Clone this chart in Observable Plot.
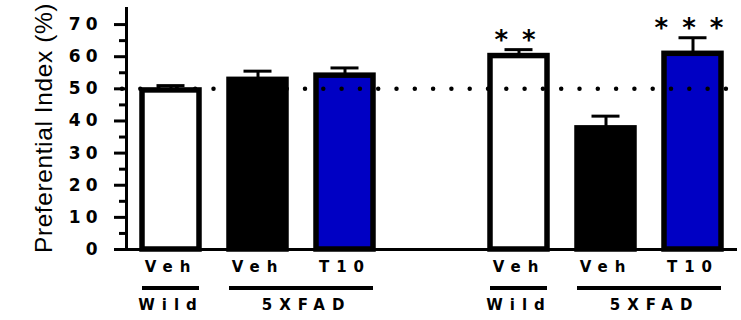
<!DOCTYPE html>
<html>
<head>
<meta charset="utf-8">
<script src="https://cdn.jsdelivr.net/npm/d3@7"></script>
<script src="https://cdn.jsdelivr.net/npm/@observablehq/plot@0.6"></script>
<style>
  html, body { margin: 0; padding: 0; background: #fff; }
  g[aria-label="y-axis tick label"] text { letter-spacing: 5px; }
  g[aria-description="treat"] text { letter-spacing: 7px; }
  g[aria-description="group"] text { letter-spacing: 7px; }
  g[aria-description="stars"] text { letter-spacing: 14px; }
  g[aria-description="ylabel"] text { letter-spacing: 0.6px; }
</style>
</head>
<body>
<div id="chart"></div>
<script>
// ---- data ----
const sessions   = ["A", "A", "A", "B", "B", "B"];
const genotypes  = ["Wild", "5XFAD", "5XFAD", "Wild", "5XFAD", "5XFAD"];
const treatments = ["Veh", "Veh", "T10", "Veh", "Veh", "T10"];
const means      = [49.5, 52.8, 54.1, 60.2, 37.7, 60.9];
const sems       = [1.5, 2.7, 2.4, 2.0, 3.8, 5.0];
const stars      = ["", "", "", "**", "", "***"];
const yTicks      = [0, 10, 20, 30, 40, 50, 60, 70];
const yMinorTicks = [5, 15, 25, 35, 45, 55, 65];
const chanceLevel = 50;
const groupLabels = ["Wild", "5XFAD", "Wild", "5XFAD"];
const groupFirst  = [0, 1, 3, 4];
const groupLast   = [0, 2, 3, 5];
const yLabel = "Preferential Index (%)";

// ---- build tables ----
const data = means.map((m, i) => ({
  key: `${sessions[i]}-${genotypes[i]}-${treatments[i]}`,
  kind: `${genotypes[i]}-${treatments[i]}`,
  treatment: treatments[i],
  mean: m,
  upper: m + sems[i],
  star: stars[i]
}));
const uniqSessions = [...new Set(sessions)];
const xDomain = [];
uniqSessions.forEach((s, j) => {
  if (j > 0) xDomain.push("gap" + j);
  data.forEach((d, i) => { if (sessions[i] === s) xDomain.push(d.key); });
});
const groups = groupLabels.map((g, i) => ({
  label: g,
  first: data[groupFirst[i]].key,
  last: data[groupLast[i]].key,
  span: groupLast[i] - groupFirst[i]
}));

const W = 741, H = 320, mL = 126, mR = 4, mT = 8, mB = 71;
const step = (W - mL - mR) / xDomain.length;

const chart = Plot.plot({
  width: W, height: H,
  marginLeft: mL, marginRight: mR, marginTop: mT, marginBottom: mB,
  style: { fontFamily: "DejaVu Sans", background: "white", color: "black" },
  x: { type: "band", domain: xDomain, paddingInner: 0.35, paddingOuter: 0.175, axis: null },
  y: { domain: [0, 75], axis: null },
  color: { domain: ["Wild-Veh", "5XFAD-Veh", "5XFAD-T10"], range: ["white", "black", "#0000c4"] },
  marks: [
    Plot.barY(data, { x: "key", y: "mean", fill: "kind", stroke: "black", strokeWidth: 5.5 }),
    Plot.ruleX(data, { x: "key", y1: "mean", y2: "upper", strokeWidth: 3 }),
    Plot.tickY(data, { x: "key", y: "upper", strokeWidth: 3, insetLeft: 14.5, insetRight: 14.5 }),
    Plot.ruleY([0], { strokeWidth: 3 }),
    Plot.ruleY([chanceLevel], { strokeWidth: 4.5, strokeDasharray: "0 18.3", strokeLinecap: "round", insetLeft: -4, insetRight: 6 }),
    Plot.frame({ anchor: "left", strokeWidth: 3 }),
    Plot.axisY(yTicks, { tickSize: 12, tickPadding: 12, strokeWidth: 3, fontSize: 17, fontWeight: "bold" }),
    Plot.axisY(yMinorTicks, { tickSize: 7, strokeWidth: 3, tickFormat: () => "" }),
    Plot.text(data, { x: "key", y: "upper", text: "star", dy: -9, dx: 3, fontSize: 26, fontWeight: "bold", ariaDescription: "stars" }),
    Plot.text(data, { x: "key", text: "treatment", frameAnchor: "bottom", dy: 22, dx: 0, fontSize: 15, fontWeight: "bold", ariaDescription: "treat" }),
    Plot.ruleY(groups, { x1: "first", x2: "last", y: () => 0, dy: 38.5, strokeWidth: 4 }),
    Plot.text(groups.filter(g => g.span === 0), { x: "first", text: "label", frameAnchor: "bottom", dy: 60, dx: 0, fontSize: 15, fontWeight: "bold", ariaDescription: "group" }),
    Plot.text(groups.filter(g => g.span === 1), { x: "first", text: "label", frameAnchor: "bottom", dy: 60, dx: step / 2 + 5, fontSize: 15, fontWeight: "bold", ariaDescription: "group" }),
    Plot.text([yLabel], { text: d => d, frameAnchor: "left", textAnchor: "middle", lineAnchor: "middle", rotate: -90, dx: -82, dy: -1, fontSize: 24.5, fontFamily: "Liberation Sans, Arial, sans-serif", ariaDescription: "ylabel" })
  ]
});
document.getElementById("chart").appendChild(chart);
</script>
</body>
</html>
